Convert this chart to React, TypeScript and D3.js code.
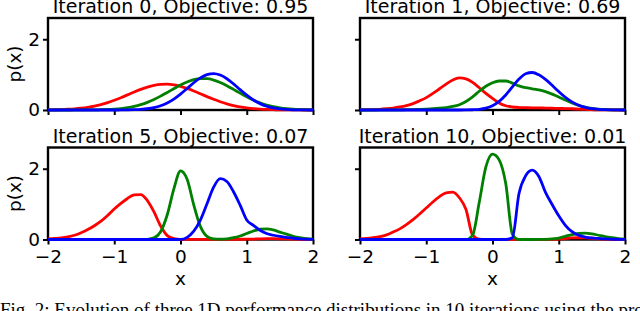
import { useEffect, useRef } from "react";
import * as d3 from "d3";

// sample positions shared by every curve
const xs = [
  -2.0, -1.9, -1.8, -1.7, -1.6, -1.5, -1.4, -1.3, -1.2, -1.1,
  -1.0, -0.9, -0.8, -0.7, -0.6, -0.5, -0.4, -0.3, -0.2, -0.1,
  0.0, 0.1, 0.2, 0.3, 0.4, 0.5, 0.6, 0.7, 0.8, 0.9,
  1.0, 1.1, 1.2, 1.3, 1.4, 1.5, 1.6, 1.7, 1.8, 1.9, 2.0,
];

const titles = [
  "Iteration 0, Objective: 0.95",
  "Iteration 1, Objective: 0.69",
  "Iteration 5, Objective: 0.07",
  "Iteration 10, Objective: 0.01",
];

const colors = ["#ff0000", "#008000", "#0000ff"];

const iter0Red = [
  0.004, 0.007, 0.012, 0.021, 0.033, 0.051, 0.076, 0.11, 0.154, 0.209,
  0.274, 0.348, 0.427, 0.507, 0.582, 0.647, 0.696, 0.724, 0.729, 0.71,
  0.669, 0.61, 0.538, 0.459, 0.379, 0.303, 0.234, 0.175, 0.126, 0.088,
  0.06, 0.039, 0.025, 0.015, 0.009, 0.005, 0.003, 0.002, 0.001, 0, 0,
];
const iter0Green = [
  0, 0, 0, 0, 0.001, 0.001, 0.002, 0.004, 0.008, 0.014,
  0.025, 0.041, 0.066, 0.102, 0.152, 0.217, 0.298, 0.392, 0.497, 0.603,
  0.706, 0.793, 0.856, 0.887, 0.884, 0.846, 0.778, 0.687, 0.583, 0.476,
  0.373, 0.28, 0.203, 0.141, 0.094, 0.06, 0.037, 0.022, 0.013, 0.007, 0.004,
];
const iter0Blue = [
  0, 0, 0, 0, 0, 0, 0, 0, 0, 0,
  0, 0.001, 0.003, 0.008, 0.017, 0.035, 0.066, 0.119, 0.199, 0.309,
  0.449, 0.608, 0.77, 0.909, 1.002, 1.03, 0.988, 0.884, 0.739, 0.576,
  0.419, 0.284, 0.18, 0.106, 0.058, 0.03, 0.015, 0.006, 0.002, 0.001, 0,
];

const iter1Red = [
  0.005, 0.008, 0.013, 0.02, 0.035, 0.055, 0.085, 0.125, 0.18, 0.26,
  0.35, 0.47, 0.6, 0.73, 0.85, 0.91, 0.88, 0.78, 0.63, 0.47,
  0.33, 0.2, 0.12, 0.085, 0.07, 0.065, 0.06, 0.06, 0.055, 0.05,
  0.045, 0.04, 0.035, 0.025, 0.015, 0.008, 0.004, 0.002, 0.001, 0, 0,
];
const iter1Green = [
  0, 0, 0, 0.001, 0.002, 0.003, 0.005, 0.008, 0.012, 0.018,
  0.025, 0.035, 0.05, 0.07, 0.1, 0.15, 0.24, 0.37, 0.53, 0.67,
  0.77, 0.82, 0.82, 0.76, 0.68, 0.63, 0.6, 0.57, 0.52, 0.45,
  0.37, 0.28, 0.2, 0.13, 0.08, 0.045, 0.022, 0.01, 0.004, 0.002, 0,
];
const iter1Blue = [
  0, 0, 0, 0, 0, 0, 0, 0, 0, 0,
  0, 0, 0, 0, 0, 0, 0.002, 0.007, 0.02, 0.053,
  0.121, 0.243, 0.425, 0.652, 0.874, 1.026, 1.06, 0.993, 0.865, 0.697,
  0.521, 0.36, 0.23, 0.136, 0.075, 0.038, 0.018, 0.008, 0.003, 0.001, 0,
];

const iter5Red = [
  0.02, 0.03, 0.045, 0.075, 0.12, 0.19, 0.28, 0.39, 0.52, 0.68,
  0.86, 1.02, 1.16, 1.26, 1.27, 1.1, 0.78, 0.38, 0.11, 0.025,
  0.005, 0.003, 0.003, 0.003, 0.004, 0.004, 0.005, 0.005, 0.006, 0.007,
  0.008, 0.012, 0.018, 0.022, 0.022, 0.02, 0.015, 0.01, 0.006, 0.003, 0.002,
];
const iter5Green = [
  0, 0, 0, 0, 0, 0, 0, 0, 0, 0,
  0, 0, 0, 0, 0, 0.006, 0.046, 0.22, 0.7, 1.43,
  1.94, 1.7, 0.98, 0.37, 0.09, 0.02, 0.012, 0.02, 0.05, 0.1,
  0.17, 0.24, 0.29, 0.3, 0.27, 0.21, 0.15, 0.09, 0.05, 0.025, 0.01,
];
const iter5Blue = [
  0, 0, 0, 0, 0, 0, 0, 0, 0, 0,
  0, 0, 0, 0, 0, 0, 0, 0, 0, 0,
  0.001, 0.06, 0.235, 0.55, 1.01, 1.48, 1.72, 1.64, 1.35, 0.97,
  0.55, 0.4, 0.26, 0.17, 0.12, 0.085, 0.06, 0.035, 0.02, 0.01, 0.005,
];

const iter10Red = [
  0.02, 0.03, 0.05, 0.08, 0.13, 0.21, 0.3, 0.42, 0.56, 0.72,
  0.89, 1.06, 1.21, 1.32, 1.34, 1.18, 0.85, 0.12, 0.01, 0.003,
  0.002, 0.002, 0.002, 0.002, 0.002, 0.002, 0.002, 0.003, 0.004, 0.006,
  0.01, 0.03, 0.045, 0.05, 0.045, 0.035, 0.02, 0.012, 0.006, 0.003, 0.001,
];
const iter10Green = [
  0, 0, 0, 0, 0, 0, 0, 0, 0, 0,
  0, 0, 0, 0, 0, 0, 0, 0.12, 1.05, 2.05,
  2.41, 2.25, 1.58, 0.15, 0, 0, 0, 0.002, 0.005, 0.015,
  0.04, 0.09, 0.14, 0.17, 0.18, 0.16, 0.12, 0.08, 0.05, 0.025, 0.01,
];
const iter10Blue = [
  0, 0, 0, 0, 0, 0, 0, 0, 0, 0,
  0, 0, 0, 0, 0, 0, 0, 0, 0, 0,
  0, 0, 0, 0.05, 1.3, 1.8, 1.96, 1.78, 1.33, 0.99,
  0.67, 0.4, 0.22, 0.12, 0.07, 0.045, 0.03, 0.015, 0.008, 0.004, 0.002,
];

const panelCurves = [
  [iter0Red, iter0Green, iter0Blue],
  [iter1Red, iter1Green, iter1Blue],
  [iter5Red, iter5Green, iter5Blue],
  [iter10Red, iter10Green, iter10Blue],
];

const xTicks = [-2, -1, 0, 1, 2];
const yTicks = [0, 2];

const caption =
  "Fig. 2: Evolution of three 1D performance distributions in 10 iterations using the proposed";

export default function App() {
  const svgRef = useRef<SVGSVGElement>(null);

  useEffect(() => {
    const svg = d3.select(svgRef.current);
    svg.selectAll("*").remove();

    const font = "DejaVu Sans";
    const fs = 18.5;
    const cols = [[48, 313], [360, 625]];
    const rows = [[18, 110], [147.5, 239.5]];

    panelCurves.forEach((curves, i) => {
      const r = Math.floor(i / 2);
      const c = i % 2;
      const [left, right] = cols[c];
      const [top, bottom] = rows[r];

      const x = d3.scaleLinear().domain([-2, 2]).range([left, right]);
      const y = d3.scaleLinear().domain([0, 2.6]).range([bottom, top]);

      const g = svg.append("g");

      const xAxis = g.append("g")
        .attr("transform", `translate(0,${bottom})`)
        .call(
          d3.axisBottom(x)
            .tickValues(xTicks)
            .tickSize(5)
            .tickSizeOuter(0)
            .tickPadding(5.5)
            .tickFormat(r === 1 ? d3.format("d") : () => "")
        );
      const yAxis = g.append("g")
        .attr("transform", `translate(${left},0)`)
        .call(
          d3.axisLeft(y)
            .tickValues(yTicks)
            .tickSize(5)
            .tickSizeOuter(0)
            .tickPadding(3)
            .tickFormat(c === 0 ? d3.format("d") : () => "")
        );
      [xAxis, yAxis].forEach((a) => {
        a.select(".domain").remove();
        a.selectAll("line").attr("stroke", "#000").attr("stroke-width", 2);
        a.selectAll("text")
          .attr("fill", "#000")
          .style("font-family", font)
          .style("font-size", `${fs}px`);
      });

      g.append("rect")
        .attr("x", left)
        .attr("y", top)
        .attr("width", right - left)
        .attr("height", bottom - top)
        .attr("fill", "none")
        .attr("stroke", "#000")
        .attr("stroke-width", 2.4);

      const line = d3.line<number>()
        .x((_, k) => x(xs[k]))
        .y((d) => y(d))
        .curve(d3.curveMonotoneX);

      curves.forEach((vals, k) => {
        g.append("path")
          .attr("d", line(vals))
          .attr("fill", "none")
          .attr("stroke", colors[k])
          .attr("stroke-width", 2.8)
          .attr("stroke-linejoin", "round");
      });

      g.append("text")
        .attr("x", (left + right) / 2)
        .attr("y", top - 5)
        .attr("text-anchor", "middle")
        .style("font-family", font)
        .style("font-size", "19px")
        .text(titles[i]);

      if (c === 0) {
        g.append("text")
          .attr("transform", `translate(21,${(top + bottom) / 2}) rotate(-90)`)
          .attr("text-anchor", "middle")
          .style("font-family", font)
          .style("font-size", `${fs}px`)
          .text("p(x)");
      }
      if (r === 1) {
        g.append("text")
          .attr("x", (left + right) / 2)
          .attr("y", 285)
          .attr("text-anchor", "middle")
          .style("font-family", font)
          .style("font-size", `${fs}px`)
          .text("x");
      }
    });

    svg.append("text")
      .attr("x", 0)
      .attr("y", 316)
      .style("font-family", "Liberation Serif")
      .style("font-size", "19px")
      .text(caption);
  }, []);

  return (
    <svg
      ref={svgRef}
      width={640}
      height={311}
      style={{ position: "absolute", left: 0, top: 0, background: "#fff" }}
    />
  );
}
